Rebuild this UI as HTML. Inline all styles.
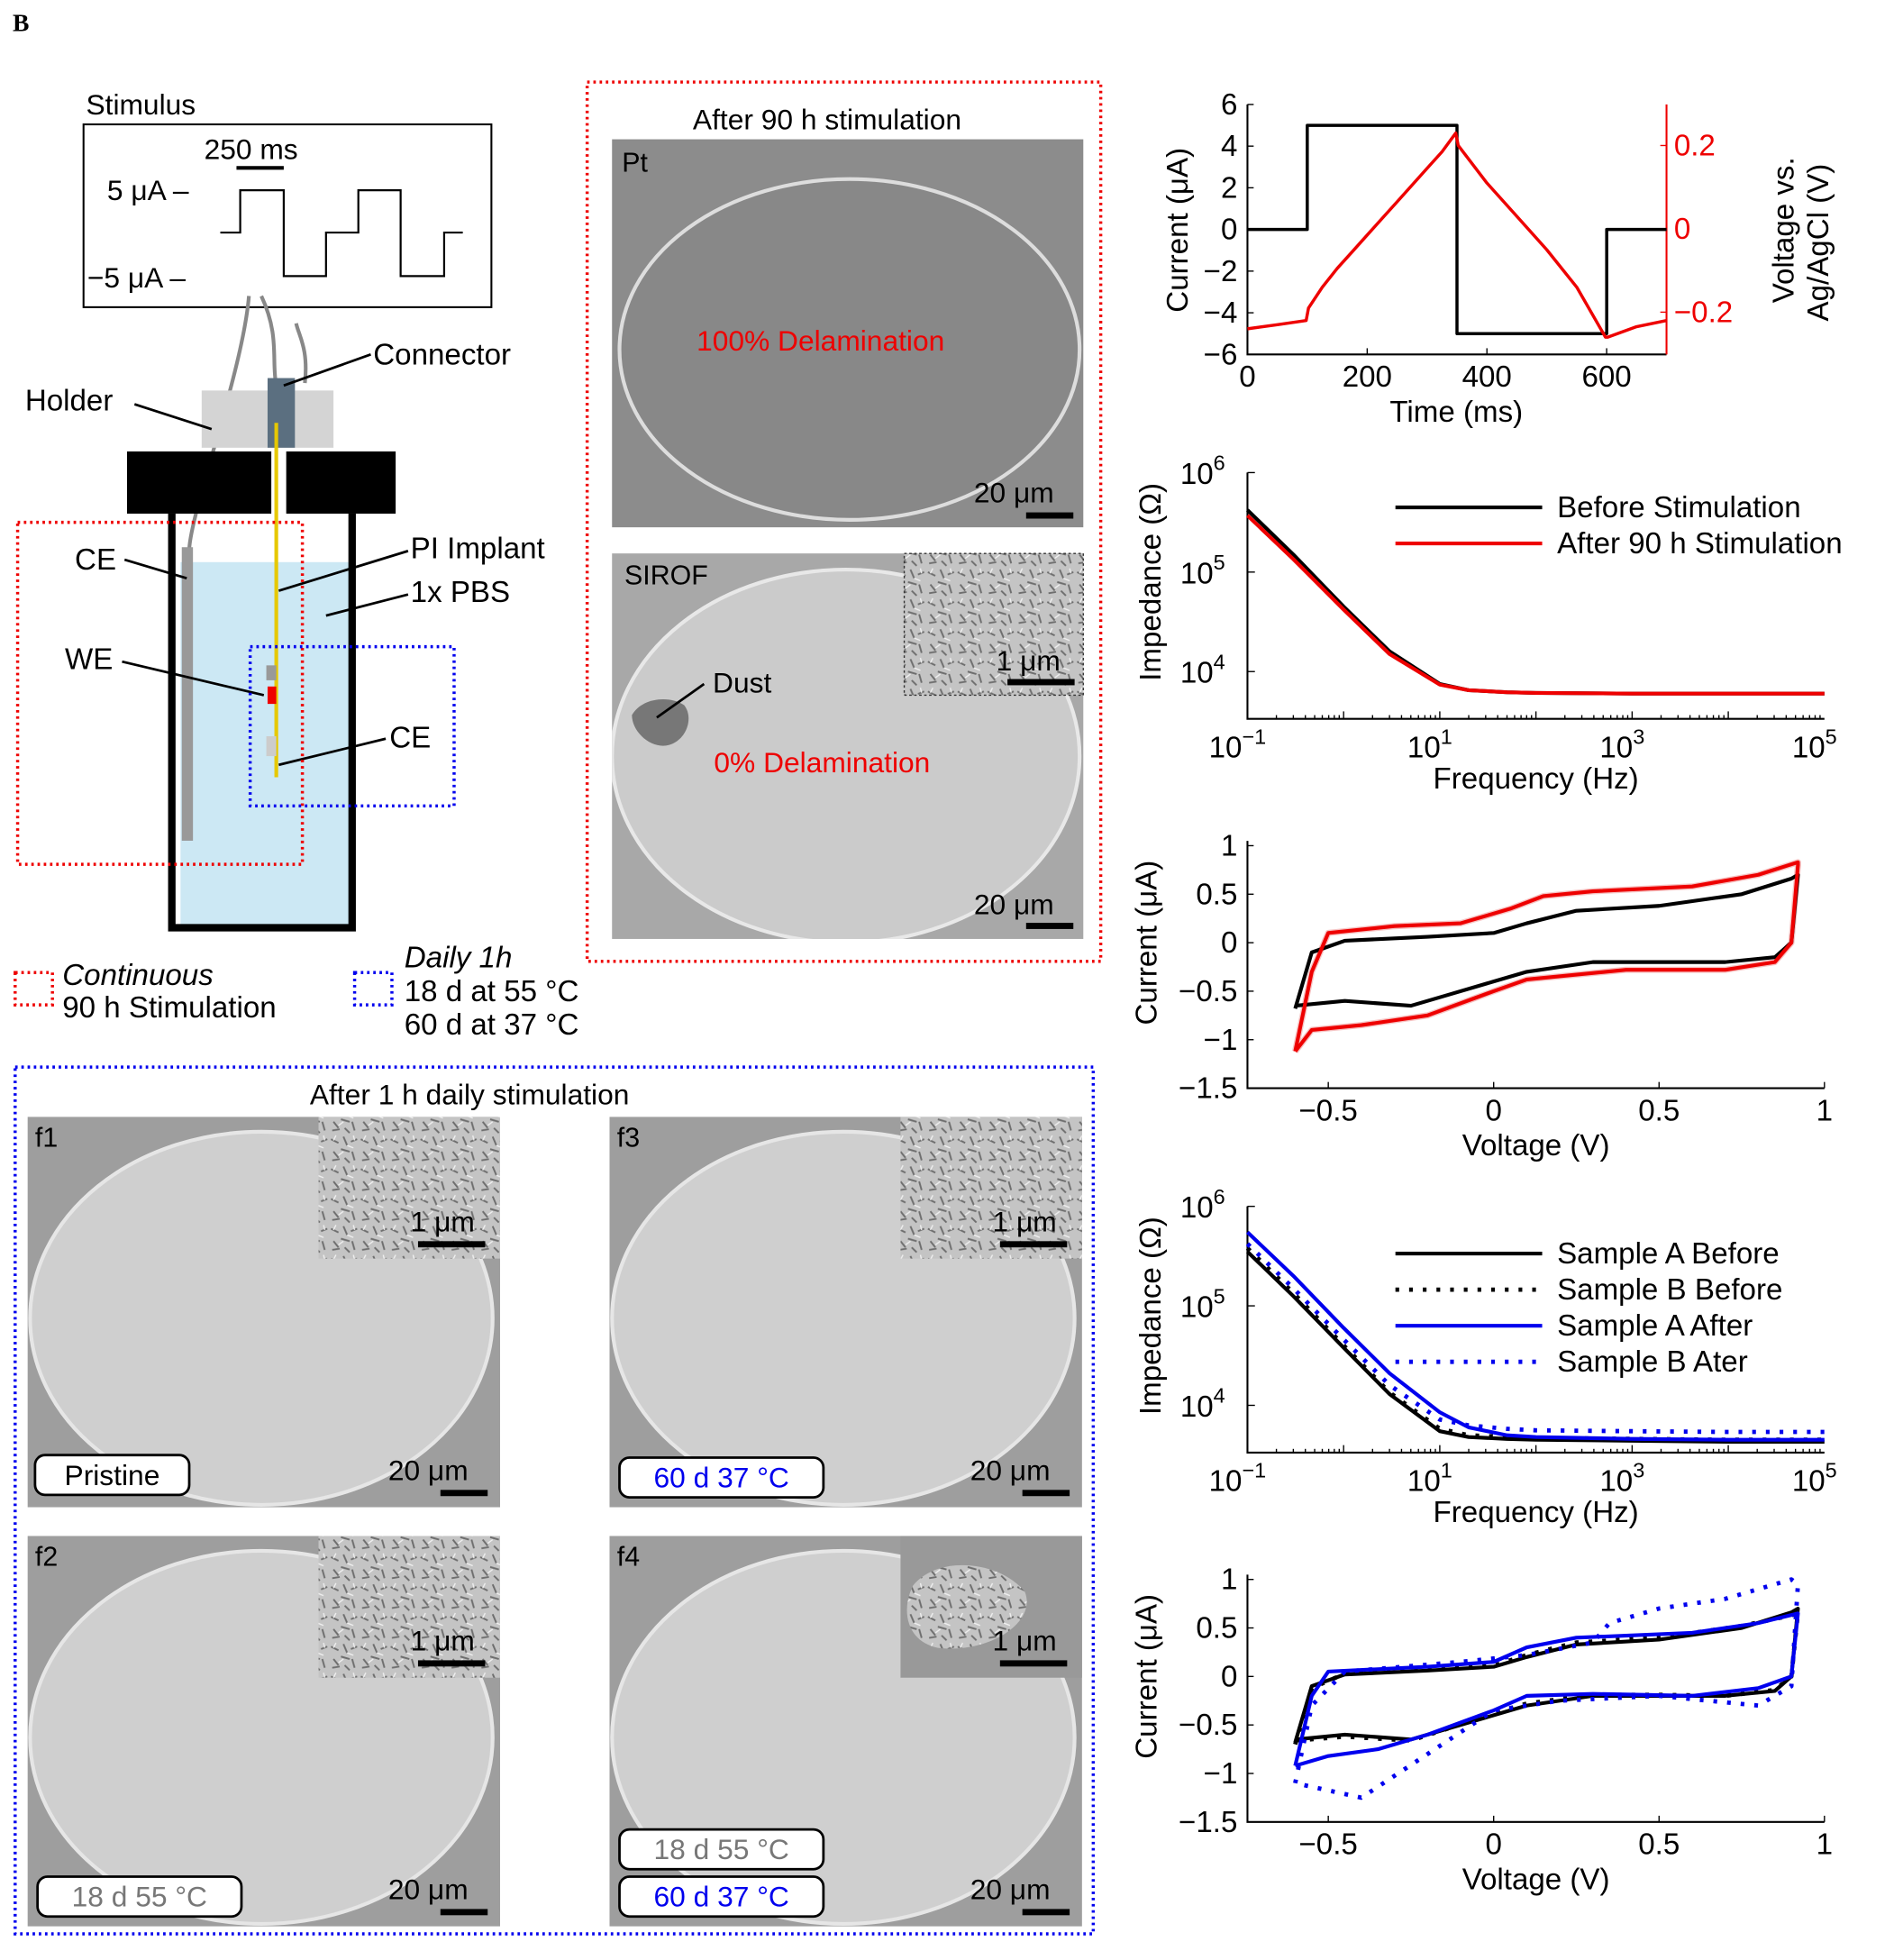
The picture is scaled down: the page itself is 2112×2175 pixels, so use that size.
<!DOCTYPE html>
<html><head><meta charset="utf-8"><style>
html,body{margin:0;padding:0;background:#fff}
svg{display:block;font-family:"Liberation Sans",sans-serif}
</style></head><body>
<svg id="root" width="2112" height="2175" viewBox="0 0 1530 1576" xmlns="http://www.w3.org/2000/svg">
<defs>
<pattern id="tex" width="24" height="24" patternUnits="userSpaceOnUse">
<rect width="24" height="24" fill="#c4c4c4"/>
<path d="M2 4l6 3M12 2l3 7M18 6l5-2M4 14l4 5M10 12l7 2M19 14l2 7M3 21l6-1M13 19l4 4" stroke="#6e6e6e" stroke-width="1.4" fill="none"/>
<path d="M6 1l-2 4M15 9l5 2M8 17l4-3M20 1l1 4" stroke="#f0f0f0" stroke-width="1" fill="none"/>
</pattern>
<clipPath id="cpSirof"><rect x="492" y="445" width="379" height="310"/></clipPath>
</defs>
<text x="10" y="25" font-family="Liberation Serif" font-weight="bold" font-size="20">B</text>

<g>
<text x="69" y="92" font-size="23">Stimulus</text>
<rect x="67" y="100" width="328" height="147" fill="none" stroke="#000" stroke-width="1.5"/>
<line x1="190" y1="135" x2="228" y2="135" stroke="#000" stroke-width="3"/>
<text x="164" y="128" font-size="23">250 ms</text>
<text x="86" y="161" font-size="23">5 μA –</text>
<text x="70" y="231" font-size="23">−5 μA –</text>
<path d="M177 187H193V153H228V222H262V187H288V153H322V222H357V187H372" fill="none" stroke="#000" stroke-width="1.6"/>
</g>

<g>
<path d="M200 238C195 300 150 420 152 445" fill="none" stroke="#888" stroke-width="3"/>
<path d="M210 238C225 270 218 290 222 310" fill="none" stroke="#888" stroke-width="3"/>
<path d="M245 308C248 280 240 270 238 260" fill="none" stroke="#888" stroke-width="3"/>
<rect x="145" y="452" width="136" height="292" fill="#cce8f4"/>
<rect x="162" y="314" width="106" height="46" fill="#d4d4d4"/>
<rect x="215" y="304" width="22" height="56" fill="#5b6f80"/>
<rect x="102" y="363" width="116" height="50" fill="#000"/>
<rect x="230" y="363" width="88" height="50" fill="#000"/>
<path d="M138 413V746H283V413" fill="none" stroke="#000" stroke-width="6"/>
<rect x="146" y="440" width="9" height="236" fill="#999"/>
<line x1="222" y1="340" x2="222" y2="625" stroke="#e6c800" stroke-width="3"/>
<rect x="214" y="535" width="8" height="12" fill="#999"/>
<rect x="215" y="552" width="7" height="14" fill="#e00"/>
<rect x="214" y="592" width="8" height="16" fill="#ccc"/>
<g font-size="24">
<text x="20" y="330">Holder</text><line x1="108" y1="325" x2="170" y2="345" stroke="#000" stroke-width="2"/>
<text x="300" y="293">Connector</text><line x1="298" y1="285" x2="228" y2="310" stroke="#000" stroke-width="2"/>
<text x="60" y="458">CE</text><line x1="100" y1="450" x2="150" y2="465" stroke="#000" stroke-width="2"/>
<text x="330" y="449">PI Implant</text><line x1="328" y1="443" x2="224" y2="475" stroke="#000" stroke-width="2"/>
<text x="330" y="484">1x PBS</text><line x1="328" y1="478" x2="262" y2="495" stroke="#000" stroke-width="2"/>
<text x="52" y="538">WE</text><line x1="98" y1="532" x2="212" y2="559" stroke="#000" stroke-width="2"/>
<text x="313" y="601">CE</text><line x1="310" y1="594" x2="224" y2="615" stroke="#000" stroke-width="2"/>
</g>
<rect x="14" y="420" width="229" height="275" fill="none" stroke="#e00" stroke-width="2.5" stroke-dasharray="2 3"/>
<rect x="201" y="520" width="164" height="128" fill="none" stroke="#00e" stroke-width="2.5" stroke-dasharray="2 3"/>
</g>
<g font-size="24">
<rect x="12" y="782" width="30" height="26" fill="none" stroke="#e00" stroke-width="2.5" stroke-dasharray="2 3"/>
<text x="50" y="792" font-style="italic">Continuous</text><text x="50" y="818">90 h Stimulation</text>
<rect x="285" y="782" width="30" height="26" fill="none" stroke="#00e" stroke-width="2.5" stroke-dasharray="2 3"/>
<text x="325" y="778" font-style="italic">Daily 1h</text><text x="325" y="805">18 d at 55 °C</text><text x="325" y="832">60 d at 37 °C</text>
</g>

<g>
<rect x="472" y="66" width="413" height="707" fill="none" stroke="#e00" stroke-width="2.5" stroke-dasharray="2 3"/>
<text x="557" y="104" font-size="23">After 90 h stimulation</text>
<rect x="492" y="112" width="379" height="312" fill="#8c8c8c"/>
<ellipse cx="683" cy="281" rx="185" ry="137" fill="#888" stroke="#ddd" stroke-width="3"/>
<text x="500" y="138" font-size="22">Pt</text>
<text x="560" y="282" font-size="23" fill="#e00">100% Delamination</text>
<text x="783" y="404" font-size="23">20 μm</text><rect x="825" y="412" width="38" height="5" fill="#000"/>
<rect x="492" y="445" width="379" height="310" fill="#a8a8a8"/>
<ellipse cx="680" cy="608" rx="188" ry="150" fill="#cbcbcb" stroke="#e8e8e8" stroke-width="3" clip-path="url(#cpSirof)"/>
<path d="M508 575c8-14 30-16 42-8c8 10 2 28-12 32c-14 4-30-10-30-24z" fill="#777"/>
<rect x="727" y="445" width="144" height="114" fill="url(#tex)"/>
<rect x="727" y="445" width="144" height="114" fill="none" stroke="#333" stroke-dasharray="2 2"/>
<text x="801" y="539" font-size="23">1 μm</text><rect x="810" y="546" width="54" height="5" fill="#000"/>
<text x="502" y="470" font-size="22">SIROF</text>
<text x="573" y="557" font-size="23">Dust</text><line x1="528" y1="577" x2="566" y2="550" stroke="#000" stroke-width="2"/>
<text x="574" y="621" font-size="23" fill="#e00">0% Delamination</text>
<text x="783" y="735" font-size="23">20 μm</text><rect x="825" y="742" width="38" height="5" fill="#000"/>
</g>

<g>
<rect x="12" y="858" width="867" height="697" fill="none" stroke="#00e" stroke-width="2.5" stroke-dasharray="2 3"/>
<text x="249" y="888" font-size="23">After 1 h daily stimulation</text>
</g>
<g id="sems"></g>
<g id="charts"></g>
</svg>
<script>
const NS="http://www.w3.org/2000/svg";
const root=document.getElementById('root');
function el(tag,attrs,parent,txt){const e=document.createElementNS(NS,tag);for(const k in attrs)e.setAttribute(k,attrs[k]);if(txt!==undefined)e.textContent=txt;(parent||root).appendChild(e);return e;}

const semTiles=[
 {id:'f1',x:22,y:898,label:'Pristine',lc:'#000',tags:null},
 {id:'f3',x:490,y:898,label:'60 d 37 °C',lc:'#00e',tags:null},
 {id:'f2',x:22,y:1235,label:'18 d 55 °C',lc:'#777',tags:null},
 {id:'f4',x:490,y:1235,label:null,tags:[['18 d 55 °C','#777'],['60 d 37 °C','#00e']]}];
const semG=document.getElementById('sems');
const defs=root.querySelector('defs');
semTiles.forEach(t=>{
 const cp=el('clipPath',{id:'cp'+t.id},defs);
 el('rect',{x:t.x,y:t.y,width:380,height:314},cp);
 const g=el('g',{'clip-path':'url(#cp'+t.id+')'},semG);
 
 
 el('rect',{x:t.x,y:t.y,width:380,height:314,fill:'#9e9e9e'},g);
 el('ellipse',{cx:t.x+188,cy:t.y+162,rx:186,ry:150,fill:'#cfcfcf',stroke:'#e6e6e6','stroke-width':3},g);
 el('rect',{x:t.x+234,y:t.y,width:146,height:114,fill:t.id==='f4'?'#999':'url(#tex)'},g);
 if(t.id==='f4')el('path',{d:`M${t.x+244} ${t.y+40}c20-25 70-20 90 5c10 25-30 50-70 45c-25-5-30-30-20-50z`,fill:'url(#tex)'},g);
 el('text',{x:t.x+308,y:t.y+92,'font-size':23},g,'1 μm');
 el('rect',{x:t.x+314,y:t.y+100,width:54,height:5,fill:'#000'},g);
 el('text',{x:t.x+6,y:t.y+24,'font-size':22},g,t.id);
 el('text',{x:t.x+290,y:t.y+292,'font-size':23},g,'20 μm');
 el('rect',{x:t.x+332,y:t.y+300,width:38,height:5,fill:'#000'},g);
 const lab=(s,c,yy)=>{el('rect',{x:t.x+8,y:yy,width:164,height:32,rx:8,fill:'#fff',stroke:'#000','stroke-width':2},g);
   el('text',{x:t.x+90,y:yy+24,'font-size':23,fill:c,'text-anchor':'middle'},g,s);};
 if(t.label){ if(t.id==='f1'){el('rect',{x:t.x+6,y:t.y+272,width:124,height:32,rx:8,fill:'#fff',stroke:'#000','stroke-width':2},g);el('text',{x:t.x+68,y:t.y+296,'font-size':23,'text-anchor':'middle'},g,t.label);} else lab(t.label,t.lc,t.y+274);}
 if(t.tags){lab(t.tags[0][0],t.tags[0][1],t.y+236);lab(t.tags[1][0],t.tags[1][1],t.y+274);}
});

const C=document.getElementById('charts');
const stimTime=[0,100,100,350,350,600,600,700];
const stimCurrent=[0,0,5,5,-5,-5,0,0];
const voltTime=[0,50,98,102,125,150,175,200,225,250,275,300,325,348,352,400,450,500,550,598,602,650,700];
const voltValues=[-0.24,-0.23,-0.22,-0.19,-0.14,-0.095,-0.055,-0.015,0.025,0.065,0.105,0.145,0.185,0.23,0.2,0.11,0.03,-0.05,-0.14,-0.26,-0.26,-0.235,-0.22];
const c1XTicks=[0,200,400,600];
const c1YTicks=[-6,-4,-2,0,2,4,6];
const c1VTicks=[-0.2,0,0.2];
const freq=[0.1,0.3,1,3,10,20,50,100,1000,10000,100000];
const zBefore=[4.2e5,1.5e5,4.5e4,1.6e4,7.5e3,6.5e3,6.2e3,6.1e3,6e3,6e3,6e3];
const zAfter90=[3.7e5,1.35e5,4.2e4,1.5e4,7.4e3,6.5e3,6.2e3,6.1e3,6e3,6e3,6e3];
const zABefore=[3.5e5,1.25e5,3.8e4,1.3e4,5.5e3,4.8e3,4.6e3,4.5e3,4.4e3,4.3e3,4.3e3];
const zBBefore=[3.8e5,1.35e5,4e4,1.35e4,5.8e3,5e3,4.8e3,4.7e3,4.6e3,4.5e3,4.5e3];
const zAAfter=[5.5e5,2e5,6e4,2.1e4,8.5e3,6e3,5e3,4.8e3,4.6e3,4.5e3,4.5e3];
const zBAfter=[4.2e5,1.5e5,4.6e4,1.6e4,7.2e3,6.3e3,5.8e3,5.6e3,5.5e3,5.4e3,5.4e3];
const cvV_black=[-0.6,-0.55,-0.45,-0.2,0,0.1,0.25,0.5,0.75,0.9,0.92,0.9,0.85,0.7,0.5,0.3,0.1,0,-0.15,-0.25,-0.45,-0.6];
const cvI_black=[-0.68,-0.1,0.02,0.06,0.1,0.2,0.33,0.38,0.5,0.66,0.7,0,-0.15,-0.2,-0.2,-0.2,-0.3,-0.4,-0.55,-0.65,-0.6,-0.65];
const cvV_red=[-0.6,-0.55,-0.5,-0.3,-0.1,0.05,0.15,0.3,0.6,0.8,0.92,0.92,0.9,0.85,0.7,0.4,0.1,0,-0.2,-0.4,-0.55,-0.6];
const cvI_red=[-1.12,-0.3,0.1,0.17,0.2,0.35,0.48,0.53,0.58,0.7,0.83,0.8,0,-0.2,-0.28,-0.28,-0.38,-0.5,-0.75,-0.85,-0.9,-1.12];
const cvI_bBefore=[-0.7,-0.12,0.03,0.07,0.11,0.22,0.35,0.4,0.52,0.63,0.66,0,-0.14,-0.2,-0.19,-0.19,-0.28,-0.38,-0.55,-0.66,-0.62,-0.66];
const cvV_blue=[-0.6,-0.55,-0.5,-0.2,0,0.1,0.25,0.4,0.6,0.8,0.92,0.9,0.8,0.6,0.3,0.1,0,-0.2,-0.35,-0.5,-0.6];
const cvI_blue=[-0.92,-0.2,0.05,0.1,0.15,0.3,0.4,0.42,0.45,0.55,0.65,0,-0.12,-0.2,-0.18,-0.2,-0.35,-0.6,-0.75,-0.82,-0.92];
const cvV_bAfter=[-0.6,-0.55,-0.45,-0.1,0.1,0.3,0.35,0.5,0.7,0.9,0.92,0.9,0.8,0.5,0.2,0,-0.2,-0.4,-0.6];
const cvI_bAfter=[-1.1,-0.3,0.05,0.15,0.22,0.35,0.55,0.7,0.8,1.0,0.95,-0.1,-0.3,-0.2,-0.25,-0.35,-0.8,-1.25,-1.1];
const cvXTicks=[-0.5,0,0.5,1];
const cvXLabels=['-0.5','0','0.5','1'];
const cvYTicks=[-1.5,-1,-0.5,0,0.5,1];
const cvYLabels=['-1.5','-1','-0.5','0','0.5','1'];
const logXTicks=[-1,1,3,5];
const logYTicks=[4,5,6];

function lin(d0,d1,r0,r1){return v=>r0+(v-d0)/(d1-d0)*(r1-r0);}
function poly(xs,ys,sx,sy,attrs,g,name){
 const pts=xs.map((x,i)=>sx(x).toFixed(1)+','+sy(ys[i]).toFixed(1)).join(' ');
 const p=el('polyline',Object.assign({points:pts,fill:'none','stroke-linejoin':'round'},attrs),g);
 
 
}
function frame(g,x0,x1,y0,y1){el('path',{d:`M${x0} ${y0}V${y1}H${x1}`,fill:'none',stroke:'#000','stroke-width':1.5},g);}
const FS=24;

(function(){
 const g=el('g',{},C);
 
 
 const x0=1003,x1=1340,yt=84,yb=285;
 const sx=lin(0,700,x0,x1), sy=lin(-6,6,yb,yt), sv=lin(0,0.2,184,117);
 frame(g,x0,x1,yt,yb);
 el('line',{x1:x1,y1:yt,x2:x1,y2:yb,stroke:'#e00','stroke-width':1.5},g);
 c1XTicks.forEach(t=>{el('line',{x1:sx(t),x2:sx(t),y1:yb,y2:yb-5,stroke:'#000'},g);el('text',{x:sx(t),y:yb+26,'font-size':FS,'text-anchor':'middle'},g,t);});
 c1YTicks.forEach(t=>{el('line',{x1:x0,x2:x0+5,y1:sy(t),y2:sy(t),stroke:'#000'},g);el('text',{x:x0-8,y:sy(t)+8,'font-size':FS,'text-anchor':'end'},g,t<0?'−'+(-t):t);});
 c1VTicks.forEach(t=>{el('line',{x1:x1,x2:x1-5,y1:sv(t),y2:sv(t),stroke:'#e00'},g);el('text',{x:x1+6,y:sv(t)+8,'font-size':FS,fill:'#e00'},g,t<0?'−'+(-t):t);});
 poly(stimTime,stimCurrent,sx,sy,{stroke:'#000','stroke-width':2.5},g,'current-line');
 poly(voltTime,voltValues,sx,sv,{stroke:'#e00','stroke-width':2.5},g,'voltage-line');
 el('text',{x:1171,y:339,'font-size':FS,'text-anchor':'middle'},g,'Time (ms)');
 el('text',{transform:'translate(955,185) rotate(-90)','font-size':FS,'text-anchor':'middle'},g,'Current (μA)');
 el('text',{transform:'translate(1442,185) rotate(-90)','font-size':FS,'text-anchor':'middle'},g,'Voltage vs.');
 el('text',{transform:'translate(1470,195) rotate(-90)','font-size':FS,'text-anchor':'middle'},g,'Ag/AgCl (V)');
})();

function impChart(name,yTop,series,legend,legY){
 const g=el('g',{},C);
 
 
 const x0=1003,x1=1467,yb=yTop+198;
 const sx=v=>lin(-1,5,x0,x1)(Math.log10(v));
 const syl=lin(4,6,yTop+160,yTop);
 const sy=v=>syl(Math.log10(v));
 frame(g,x0,x1,yTop,yb);
 for(let d=-1;d<5;d++)for(let m=1;m<10;m++){const x=sx(m*Math.pow(10,d));el('line',{x1:x,x2:x,y1:yb,y2:yb-(m===1?6:3),stroke:'#000'},g);}
 logXTicks.forEach(t=>{const x=lin(-1,5,x0,x1)(t);const tx=el('text',{x:x-8,y:yb+31,'font-size':FS,'text-anchor':'middle'},g,'10');el('tspan',{dy:-11,'font-size':17},tx,t<0?'−'+(-t):t);});
 logYTicks.forEach(t=>{const y=syl(t);el('line',{x1:x0,x2:x0+6,y1:y,y2:y,stroke:'#000'},g);const tx=el('text',{x:x0-36,y:y+9,'font-size':FS,'text-anchor':'middle'},g,'10');el('tspan',{dy:-11,'font-size':17},tx,t);});
 series.forEach(s=>poly(freq,s.d,sx,sy,s.a,g,s.n));
 legend.forEach((l,i)=>{const y=legY+i*29;el('line',Object.assign({x1:1122,x2:1240,y1:y,y2:y},l.a),g);el('text',{x:1252,y:y+8,'font-size':FS},g,l.t);});
 el('text',{x:1235,y:yb+56,'font-size':FS,'text-anchor':'middle'},g,'Frequency (Hz)');
 el('text',{transform:`translate(933,${yTop+88}) rotate(-90)`,'font-size':FS,'text-anchor':'middle'},g,'Impedance (Ω)');
}
const sBk={stroke:'#000','stroke-width':3},sRd={stroke:'#e00','stroke-width':3},sBl={stroke:'#00e','stroke-width':3};
const dBk={stroke:'#000','stroke-width':3.5,'stroke-dasharray':'3 8'},dBl={stroke:'#00e','stroke-width':3.5,'stroke-dasharray':'3 8'};
impChart('impedance-chart-90h',380,[{d:zBefore,a:sBk,n:'before-line'},{d:zAfter90,a:sRd,n:'after-line'}],
 [{t:'Before Stimulation',a:sBk},{t:'After 90 h Stimulation',a:sRd}],408);
impChart('impedance-chart-daily',970,[{d:zABefore,a:sBk,n:'a-before-line'},{d:zBBefore,a:dBk,n:'b-before-line'},{d:zAAfter,a:sBl,n:'a-after-line'},{d:zBAfter,a:dBl,n:'b-after-line'}],
 [{t:'Sample A Before',a:sBk},{t:'Sample B Before',a:dBk},{t:'Sample A After',a:sBl},{t:'Sample B Ater',a:dBl}],1008);

function cvChart(name,y0,series){
 const g=el('g',{},C);
 
 
 const x0=1003,x1=1467,yb=y0+117;
 const sx=lin(0,1,1201,1467),sy=lin(0,1,y0,y0-78);
 frame(g,x0,x1,sy(1.05),yb);
 cvXTicks.forEach((t,i)=>{el('line',{x1:sx(t),x2:sx(t),y1:yb,y2:yb-5,stroke:'#000'},g);el('text',{x:sx(t),y:yb+26,'font-size':FS,'text-anchor':'middle'},g,cvXLabels[i].replace('-','−'));});
 cvYTicks.forEach((t,i)=>{el('line',{x1:x0,x2:x0+5,y1:sy(t),y2:sy(t),stroke:'#000'},g);el('text',{x:x0-8,y:sy(t)+8,'font-size':FS,'text-anchor':'end'},g,cvYLabels[i].replace('-','−'));});
 series.forEach(s=>poly(s.v,s.i,sx,sy,s.a,g,s.n));
 el('text',{x:1235,y:yb+54,'font-size':FS,'text-anchor':'middle'},g,'Voltage (V)');
 el('text',{transform:`translate(930,${y0}) rotate(-90)`,'font-size':FS,'text-anchor':'middle'},g,'Current (μA)');
}
cvChart('cv-chart-90h',758,[{v:cvV_red,i:cvI_red,a:{stroke:'#f6c4c4','stroke-width':5},n:'after-band'},{v:cvV_black,i:cvI_black,a:sBk,n:'before-cv'},{v:cvV_red,i:cvI_red,a:sRd,n:'after-cv'}]);
cvChart('cv-chart-daily',1348,[{v:cvV_black,i:cvI_black,a:sBk,n:'a-before-cv'},{v:cvV_black,i:cvI_bBefore,a:dBk,n:'b-before-cv'},{v:cvV_blue,i:cvI_blue,a:sBl,n:'a-after-cv'},{v:cvV_bAfter,i:cvI_bAfter,a:dBl,n:'b-after-cv'}]);
</script>
</body></html>
